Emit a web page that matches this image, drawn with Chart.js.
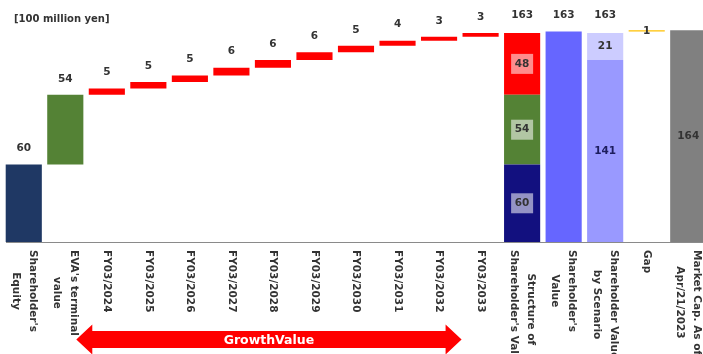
<!DOCTYPE html>
<html>
<head>
<meta charset="utf-8">
<script src="https://cdn.jsdelivr.net/npm/chart.js@4.4.1/dist/chart.umd.min.js"></script>
<style>
  html, body { margin: 0; padding: 0; background: #fff; overflow: hidden; }
  #wrap { width: 712px; height: 354px; position: relative; }
</style>
</head>
<body>
<div id="wrap"><canvas id="chart" width="712" height="354"></canvas></div>
<script>
// categories (line breaks = label lines)
const categories = [
  ["Shareholder's", "Equity"],
  ["EVA's terminal", "value"],
  ["FY03/2024"], ["FY03/2025"], ["FY03/2026"], ["FY03/2027"], ["FY03/2028"],
  ["FY03/2029"], ["FY03/2030"], ["FY03/2031"], ["FY03/2032"], ["FY03/2033"],
  ["Structure of", "Shareholder's Value"],
  ["Shareholder's", "Value"],
  ["Shareholder Value", "by Scenario"],
  ["Gap"],
  ["Market Cap. As of", "Apr/21/2023"]
];

const equity = 60;
const evaTerminal = 54;
const growth = [5, 5, 5, 6, 6, 6, 5, 4, 3, 3];
const structure = [60, 54, 48];   // equity, terminal value, growth value
const shareholderValue = 163;
const scenario = [141, 21];
const gap = 1;
const marketCap = 164;

const unitLabel = "[100 million yen]";
const arrowLabel = "GrowthValue";

const FONT = "'DejaVu Sans', Verdana, sans-serif";
const n = categories.length;
const blank = () => new Array(n).fill(null);

// waterfall ranges
const eqData = blank(); eqData[0] = [0, equity];
const evaData = blank(); evaData[1] = [equity, equity + evaTerminal];
const growthData = blank();
let run = equity + evaTerminal;
growth.forEach((g, i) => { growthData[i + 2] = [run, run + g]; run += g; });

const stA = blank(), stB = blank(), stC = blank();
stA[12] = [0, structure[0]];
stB[12] = [structure[0], structure[0] + structure[1]];
stC[12] = [structure[0] + structure[1], structure[0] + structure[1] + structure[2]];

const svData = blank(); svData[13] = [0, shareholderValue];
const scLow = blank(), scHigh = blank();
scLow[14] = [0, scenario[0]];
scHigh[14] = [scenario[0], scenario[0] + scenario[1]];
const gapData = blank(); gapData[15] = [shareholderValue, shareholderValue + gap];
const mcData = blank(); mcData[16] = [0, marketCap];

// numbers above the bars
const topLabels = [equity, evaTerminal, ...growth, shareholderValue, shareholderValue, shareholderValue, null, null];

const ds = (data, color) => ({ data, backgroundColor: color, grouped: false, borderWidth: 0 });

const labelPlugin = {
  id: "labels",
  afterDatasetsDraw(chart) {
    const { ctx } = chart;
    const x = chart.scales.x, y = chart.scales.y;
    const base = y.getPixelForValue(0);
    ctx.save();

    // axis line
    ctx.strokeStyle = "#8a8a8a";
    ctx.lineWidth = 1;
    ctx.beginPath();
    ctx.moveTo(6, Math.round(base) + 0.5);
    ctx.lineTo(chart.width, Math.round(base) + 0.5);
    ctx.stroke();

    // unit
    ctx.fillStyle = "#333";
    ctx.font = "bold 10px " + FONT;
    ctx.textAlign = "left";
    ctx.textBaseline = "middle";
    ctx.fillText(unitLabel, 14, 19);

    // top values
    ctx.textAlign = "center";
    ctx.font = "bold 10.5px " + FONT;
    ctx.fillStyle = "#333";
    topLabels.forEach((v, i) => {
      if (v === null) return;
      let top;
      if (i === 0) top = equity;
      else if (i === 1) top = equity + evaTerminal;
      else if (i < 12) top = growthData[i][1];
      else top = shareholderValue;
      ctx.fillText(String(v), x.getPixelForValue(i), y.getPixelForValue(top) - 16);
    });

    // boxed values inside the structure bar
    const boxed = (i, lo, hi, v) => {
      const cx = x.getPixelForValue(i);
      const cy = (y.getPixelForValue(lo) + y.getPixelForValue(hi)) / 2;
      ctx.fillStyle = "rgba(255,255,255,0.55)";
      ctx.fillRect(cx - 11, cy - 10, 22, 20);
      ctx.fillStyle = "#333";
      ctx.fillText(String(v), cx, cy);
    };
    boxed(12, stA[12][0], stA[12][1], structure[0]);
    boxed(12, stB[12][0], stB[12][1], structure[1]);
    boxed(12, stC[12][0], stC[12][1], structure[2]);

    const plain = (i, lo, hi, v, color) => {
      ctx.fillStyle = color;
      ctx.fillText(String(v), x.getPixelForValue(i), (y.getPixelForValue(lo) + y.getPixelForValue(hi)) / 2);
    };
    plain(14, scLow[14][0], scLow[14][1], scenario[0], "#1d1d5e");
    plain(14, scHigh[14][0], scHigh[14][1], scenario[1], "#333");
    plain(15, gapData[15][0], gapData[15][1], gap, "#333");
    plain(16, 0, marketCap, marketCap, "#333");

    // category labels, rotated clockwise
    ctx.font = "bold 10.5px " + FONT;
    ctx.fillStyle = "#333";
    const lineH = 17;
    categories.forEach((lines, i) => {
      const w = Math.max(...lines.map(s => ctx.measureText(s).width));
      ctx.save();
      ctx.translate(x.getPixelForValue(i), base + 8);
      ctx.rotate(Math.PI / 2);
      ctx.textAlign = "center";
      ctx.textBaseline = "middle";
      lines.forEach((s, k) => {
        ctx.fillText(s, w / 2, (k - (lines.length - 1) / 2) * lineH);
      });
      ctx.restore();
    });

    // growth value arrow
    const ax0 = x.getPixelForValue(1) + 11;
    const ax1 = x.getPixelForValue(11) - 19;
    const ay = 339.5, body = 8.5, head = 15, hl = 16;
    ctx.fillStyle = "#ff0000";
    ctx.beginPath();
    ctx.moveTo(ax0, ay);
    ctx.lineTo(ax0 + hl, ay - head);
    ctx.lineTo(ax0 + hl, ay - body);
    ctx.lineTo(ax1 - hl, ay - body);
    ctx.lineTo(ax1 - hl, ay - head);
    ctx.lineTo(ax1, ay);
    ctx.lineTo(ax1 - hl, ay + head);
    ctx.lineTo(ax1 - hl, ay + body);
    ctx.lineTo(ax0 + hl, ay + body);
    ctx.lineTo(ax0 + hl, ay + head);
    ctx.closePath();
    ctx.fill();
    ctx.fillStyle = "#fff";
    ctx.font = "bold 12.5px " + FONT;
    ctx.textAlign = "center";
    ctx.fillText(arrowLabel, (ax0 + ax1) / 2, ay + 1);

    ctx.restore();
  }
};

new Chart(document.getElementById("chart"), {
  type: "bar",
  data: {
    labels: categories.map(c => c.join(" ")),
    datasets: [
      ds(eqData, "#1f3864"),
      ds(evaData, "#548235"),
      ds(growthData, "#ff0000"),
      ds(stA, "#12107f"),
      ds(stB, "#548235"),
      ds(stC, "#ff0000"),
      ds(svData, "#6666ff"),
      ds(scLow, "#9999ff"),
      ds(scHigh, "#ccccff"),
      ds(gapData, "#ffc000"),
      ds(mcData, "#808080")
    ]
  },
  options: {
    responsive: false,
    animation: false,
    layout: { padding: { left: 3, right: 3, top: 20, bottom: 112 } },
    datasets: { bar: { categoryPercentage: 1, barPercentage: 0.87 } },
    scales: {
      x: { display: false },
      y: { display: false, min: 0, max: 172 }
    },
    plugins: { legend: { display: false }, tooltip: { enabled: false } }
  },
  plugins: [labelPlugin]
});
</script>
</body>
</html>
